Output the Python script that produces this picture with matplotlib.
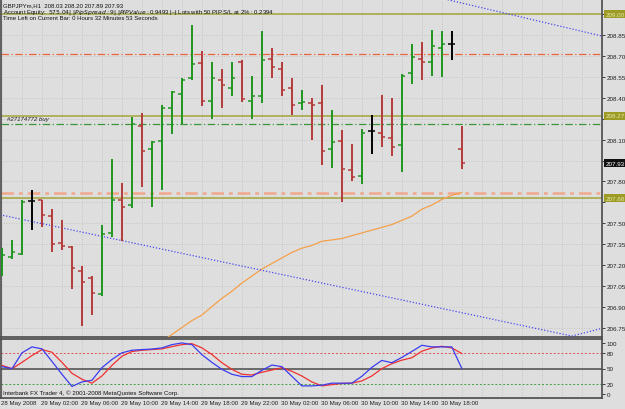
import matplotlib
matplotlib.use('Agg')
import matplotlib.pyplot as plt
import numpy as np

plt.rcParams['font.family'] = ['Liberation Sans', 'DejaVu Sans']

# hourly bars, GBPJPYm H1, from 28 May 22:00
opens = [207.23, 207.26, 207.28, 207.66, 207.67, 207.55, 207.36, 207.33, 207.16, 207.11,
         206.99, 207.43, 207.67, 207.63, 208.20, 208.03, 208.09, 208.33, 208.43, 208.54,
         208.65, 208.38, 208.53, 208.47, 208.66, 208.38, 208.41, 208.68, 208.61, 208.47,
         208.36, 208.36, 208.36, 208.03, 208.09, 207.88, 207.84, 208.16, 208.15, 208.11,
         208.06, 208.58, 208.68, 208.66, 208.76, 208.79, 208.03]
highs = [207.32, 207.38, 207.67, 207.74, 207.67, 207.60, 207.52, 207.34, 207.19, 207.12,
         207.49, 207.96, 207.79, 208.26, 208.29, 208.09, 208.35, 208.45, 208.54, 208.92,
         208.74, 208.66, 208.61, 208.66, 208.67, 208.56, 208.88, 208.76, 208.66, 208.54,
         208.46, 208.40, 208.49, 208.31, 208.17, 208.07, 208.18, 208.28, 208.42, 208.40,
         208.57, 208.79, 208.80, 208.89, 208.88, 208.88, 208.20]
lows = [207.12, 207.24, 207.27, 207.45, 207.47, 207.29, 207.31, 207.03, 206.76, 206.84,
        206.98, 207.40, 207.37, 207.61, 207.76, 207.62, 207.74, 208.14, 208.21, 208.53,
        208.34, 208.25, 208.33, 208.41, 208.37, 208.25, 208.36, 208.54, 208.41, 208.28,
        208.31, 208.10, 207.92, 207.90, 207.65, 207.80, 207.78, 208.00, 208.05, 207.98,
        207.87, 208.50, 208.53, 208.56, 208.55, 208.67, 207.89]
closes = [207.27, 207.29, 207.65, 207.66, 207.56, 207.35, 207.34, 207.18, 207.08, 207.00,
          207.42, 207.67, 207.62, 208.21, 208.02, 208.08, 208.33, 208.44, 208.53, 208.64,
          208.38, 208.54, 208.49, 208.54, 208.39, 208.41, 208.67, 208.62, 208.46, 208.35,
          208.37, 208.35, 208.02, 208.08, 207.89, 207.83, 208.15, 208.16, 208.12, 208.05,
          208.56, 208.69, 208.66, 208.77, 208.79, 208.79, 207.93]

# moving average, visible from bar 16
ma_start = 16
ma_values = [206.65, 206.70, 206.75, 206.80, 206.84, 206.90, 206.96, 207.01, 207.07, 207.12,
             207.17, 207.21, 207.25, 207.29, 207.32, 207.34, 207.37, 207.38, 207.39, 207.41,
             207.43, 207.45, 207.47, 207.49, 207.52, 207.55, 207.60, 207.63, 207.67, 207.70,
             207.72]

# stochastic oscillator
stoch_k = [53.6, 49.7, 80.7, 92.3, 88.4, 63.8, 38.7, 14.9, 23.8, 27.0,
           51.6, 67.7, 80.7, 85.7, 87.0, 88.0, 90.3, 96.7, 100.0, 96.7,
           77.0, 62.0, 48.4, 38.7, 34.2, 34.2, 46.4, 56.7, 53.6, 34.8,
           16.0, 16.0, 17.4, 21.3, 21.3, 21.3, 34.8, 52.2, 65.8, 61.3,
           71.6, 83.2, 95.4, 92.3, 92.3, 92.3, 50.3]
stoch_d = [56.1, 49.7, 62.0, 75.4, 87.0, 81.8, 62.0, 40.6, 29.0, 21.3,
           35.4, 56.1, 74.0, 83.2, 85.7, 87.0, 88.4, 92.8, 96.7, 98.6,
           90.3, 77.4, 61.3, 48.4, 38.7, 37.3, 42.6, 47.0, 51.6, 44.5,
           35.4, 23.8, 16.0, 18.4, 20.7, 21.3, 25.7, 35.4, 49.7, 59.4,
           66.3, 71.0, 83.8, 90.3, 93.4, 90.3, 79.3]

price_levels = [209.00, 208.85, 208.70, 208.55, 208.40, 208.25, 208.10, 207.95,
                207.80, 207.65, 207.50, 207.35, 207.20, 207.05, 206.90, 206.75]
time_labels = ['28 May 2008', '29 May 02:00', '29 May 06:00', '29 May 10:00',
               '29 May 14:00', '29 May 18:00', '29 May 22:00', '30 May 02:00',
               '30 May 06:00', '30 May 10:00', '30 May 14:00', '30 May 18:00']

bg = '#dedede'
up_col = '#1f961f'
dn_col = '#b43a3a'
olive = '#a8a84a'

fig = plt.figure(figsize=(6.25, 4.1), dpi=100, facecolor=bg)
ax = fig.add_axes([1 / 625, 72 / 410, 601 / 625, 338 / 410], facecolor=bg)
ax2 = fig.add_axes([1 / 625, 11 / 410, 601 / 625, 59 / 410], facecolor=bg)

n = len(opens)
x = np.arange(n)
xlim = (-0.07, 60.03)

# grid
for a in (ax, ax2):
    for gx in range(0, 61, 2):
        a.axvline(gx, color='#bcbcbc', lw=0.6, ls=(0, (1, 2)), zorder=0)
for lv in price_levels:
    ax.axhline(lv, color='#bcbcbc', lw=0.6, ls=(0, (1, 2)), zorder=0)

# bars
for i in range(n):
    o, h, l, c = opens[i], highs[i], lows[i], closes[i]
    col = up_col if c > o else (dn_col if c < o else 'black')
    ax.vlines(x[i], l, h, color=col, lw=1.4, zorder=4)
    ax.hlines(o, x[i] - 0.35, x[i], color=col, lw=1.1, zorder=4)
    ax.hlines(c, x[i], x[i] + 0.35, color=col, lw=1.1, zorder=4)

# moving average
ax.plot(x[ma_start:], ma_values, color='#f5a04a', lw=0.9, zorder=3)

# horizontal objects
for lv in (209.00, 208.27, 207.68):
    ax.axhline(lv, color=olive, lw=1.2, zorder=2)
ax.axhline(208.715, color='#e8643c', lw=0.9, ls=(0, (6, 2, 1, 2)), zorder=2)
ax.axhline(208.21, color='#3c963c', lw=0.9, ls=(0, (6, 2, 1, 2)), zorder=2)
ax.axhline(207.715, color='#f0a88c', lw=1.8, ls=(0, (5, 2, 1.5, 2)), zorder=2)
ax.text(0.5, 208.235, '#27174772 buy', fontsize=4.3, style='italic', color='#202020',
        va='bottom', ha='left', zorder=5)

# trend lines
ax.plot([-0.17, 57.0, 60.03], [207.561, 206.69, 206.745], color='#4a4af0', lw=0.9,
        ls=(0, (1, 1.5)), zorder=3)
ax.plot([44.0, 60.03], [209.115, 208.844], color='#4a4af0', lw=0.9,
        ls=(0, (1, 1.5)), zorder=3)

ax.set_xlim(*xlim)
ax.set_ylim(206.683, 209.11)
ax.set_xticks([])
ax.yaxis.tick_right()
ax.set_yticks(price_levels)
ax.set_yticklabels(['' if lv in (209.00, 208.25, 207.95, 207.65) else f'{lv:.2f}'
                    for lv in price_levels])
ax.tick_params(axis='y', length=2, width=0.6, pad=1.5, labelsize=4.5,
               colors='#202020')

# boxed price labels
for lv, txt, fc, tc in [(209.00, '209.00', '#9c9c24', '#e6e6b0'),
                        (208.27, '208.27', '#9c9c24', '#e6e6b0'),
                        (207.93, '207.93', '#101010', '#ffffff'),
                        (207.68, '207.68', '#9c9c24', '#e6e6b0')]:
    ax.text(1.006, lv, txt, transform=ax.get_yaxis_transform(), fontsize=4.5,
            color=tc, va='center', ha='left', clip_on=False, zorder=6,
            bbox=dict(boxstyle='square,pad=0.25', fc=fc, ec='none'))

# header texts
hdr = dict(transform=ax.transAxes, fontsize=4.3, color='#101010', ha='left', va='center')
ax.text(0.004, 1 - 6 / 338, 'GBPJPYm,H1  208.03 208.20 207.89 207.93', **hdr)
ax.text(0.004, 1 - 12.5 / 338, 'Account Equity:  $575.04 |~| Pip Spread:  9 |~| '
        'PIP Value:  $0.9493 |~| Lots with 50 PIP S/L at 2% : 0.2394', **hdr)
ax.text(0.004, 1 - 19 / 338, 'Time Left on Current Bar: 0 Hours 32 Minutes 53 Seconds', **hdr)

# stochastic pane
ax2.plot(x, stoch_d, color='#f03030', lw=0.9, zorder=3)
ax2.plot(x, stoch_k, color='#3c3cf0', lw=0.9, zorder=4)
ax2.axhline(80, color='#e05050', lw=0.7, ls=(0, (2, 2)), zorder=2)
ax2.axhline(20, color='#40a040', lw=0.7, ls=(0, (2, 2)), zorder=2)
ax2.axhline(50, color='#606060', lw=1.3, zorder=2)
ax2.set_xlim(*xlim)
ax2.set_ylim(-7.7, 107.7)
ax2.yaxis.tick_right()
ax2.set_yticks([100, 80, 50, 20, 0])
ax2.tick_params(axis='y', length=2, width=0.6, pad=1.5, labelsize=4.5, colors='#202020')
ax2.set_xticks(np.arange(0, 45, 4) - 0.1)
ax2.set_xticklabels(time_labels, ha='left')
ax2.tick_params(axis='x', length=0, pad=1.5, labelsize=4.4, colors='#202020')
ax2.text(0.004, 3, 'Interbank FX Trader 4, \u00a9 2001-2008 MetaQuotes Software Corp.',
         fontsize=4.4, color='#101010', ha='left', va='center',
         transform=ax2.get_yaxis_transform())

for a in (ax, ax2):
    for s in a.spines.values():
        s.set_color('#4a4a4a')
        s.set_linewidth(1.2)
ax.spines['top'].set_visible(False)

fig.savefig('out.png', dpi=100, facecolor=bg)
